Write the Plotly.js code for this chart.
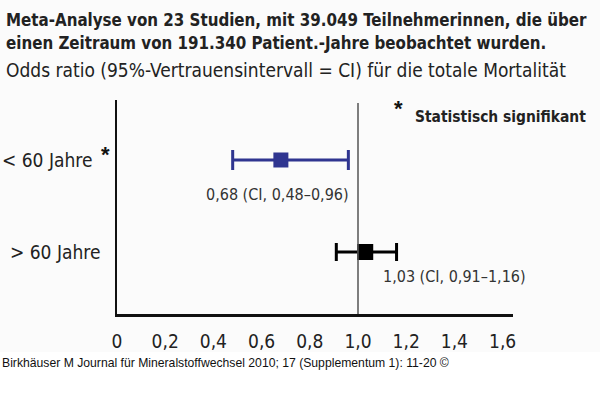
<!DOCTYPE html>
<html>
<head>
<meta charset="utf-8">
<script src="https://cdn.plot.ly/plotly-3.0.1.min.js"></script>
<style>
  html, body { margin: 0; padding: 0; background: #ffffff; }
  #chart { width: 600px; height: 414px; }
</style>
</head>
<body>
<div id="chart"></div>
<script>
// ---- Data ----
const groups = ['< 60 Jahre', '> 60 Jahre'];
const oddsRatio = [0.68, 1.03];
const ciLow = [0.48, 0.91];
const ciHigh = [0.96, 1.16];
const significant = [true, false];
const groupColors = ['#2f3590', '#000000'];
const xTickVals = [0, 0.2, 0.4, 0.6, 0.8, 1.0, 1.2, 1.4, 1.6];
const xTickText = ['0', '0,2', '0,4', '0,6', '0,8', '1,0', '1,2', '1,4', '1,6'];
const titleLines = [
  'Meta-Analyse von 23 Studien, mit 39.049 Teilnehmerinnen, die über',
  'einen Zeitraum von 191.340 Patient.-Jahre beobachtet wurden.'
];
const subtitleText = 'Odds ratio (95%-Vertrauensintervall = CI) für die totale Mortalität';
const legendText = 'Statistisch signifikant';
const sourceText = 'Birkhäuser M Journal für Mineralstoffwechsel 2010; 17 (Supplementum 1): 11-20 ©';

// ---- Layout helpers ----
const W = 600, H = 414;
const M = { l: 117, r: 87, t: 100, b: 100 };
const pw = W - M.l - M.r, ph = H - M.t - M.b;
const px2x = p => (p - M.l) / pw;
const py2y = p => 1 - (p - M.t) / ph;

const narrow = '"DejaVu Sans Condensed", "DejaVu Sans", sans-serif';
const fmt = v => v.toFixed(2).replace('.', ',');

const sizes = [15, 16];
const capW = [10, 9];

const traces = groups.map((g, i) => ({
  type: 'scatter',
  mode: 'markers',
  x: [oddsRatio[i]],
  y: [g],
  marker: { symbol: 'square', size: sizes[i], color: groupColors[i] },
  error_x: {
    type: 'data',
    symmetric: false,
    array: [ciHigh[i] - oddsRatio[i]],
    arrayminus: [oddsRatio[i] - ciLow[i]],
    color: groupColors[i],
    thickness: 3,
    width: capW[i]
  },
  hoverinfo: 'x+y',
  showlegend: false
}));

const annotations = [];
// Titles (one annotation per line)
const titleY = [20, 43];
titleLines.forEach((t, i) => {
  annotations.push({
    xref: 'paper', yref: 'paper', x: px2x(4), y: py2y(titleY[i]),
    xanchor: 'left', yanchor: 'middle', align: 'left', showarrow: false,
    text: '<b>' + t + '</b>',
    font: { family: narrow, size: 16.8, color: '#222222' }
  });
});
annotations.push({
  xref: 'paper', yref: 'paper', x: px2x(4), y: py2y(70),
  xanchor: 'left', yanchor: 'middle', showarrow: false,
  text: subtitleText,
  font: { family: narrow, size: 19, color: '#222222' }
});
// Group labels
const labelRight = [94, 102];
groups.forEach((g, i) => {
  annotations.push({
    xref: 'paper', yref: 'y', x: px2x(labelRight[i]), y: g,
    xanchor: 'right', yanchor: 'middle', showarrow: false,
    text: g, font: { family: narrow, size: 19, color: '#222222' }
  });
  if (significant[i]) {
    annotations.push({
      xref: 'paper', yref: 'y', x: px2x(99), y: g, yshift: 5,
      xanchor: 'left', yanchor: 'middle', showarrow: false,
      text: '<b>*</b>', font: { family: 'Liberation Sans, sans-serif', size: 22, color: '#111111' }
    });
  }
});
// CI labels
const ciText = groups.map((g, i) => `${fmt(oddsRatio[i])} (CI, ${fmt(ciLow[i])}–${fmt(ciHigh[i])})`);
annotations.push({
  xref: 'x', yref: 'y', x: oddsRatio[0], y: groups[0], xshift: -3, yshift: -35,
  xanchor: 'center', yanchor: 'middle', showarrow: false,
  text: ciText[0], font: { family: narrow, size: 16, color: '#333333' }
});
annotations.push({
  xref: 'x', yref: 'y', x: oddsRatio[1], y: groups[1], xshift: 16, yshift: -25,
  xanchor: 'left', yanchor: 'middle', showarrow: false,
  text: ciText[1], font: { family: narrow, size: 16, color: '#333333' }
});
// Legend
annotations.push({
  xref: 'paper', yref: 'paper', x: px2x(398), y: py2y(108),
  xanchor: 'center', yanchor: 'middle', showarrow: false,
  text: '<b>*</b>', font: { family: 'Liberation Sans, sans-serif', size: 22, color: '#111111' }
});
annotations.push({
  xref: 'paper', yref: 'paper', x: px2x(413), y: py2y(117),
  xanchor: 'left', yanchor: 'middle', showarrow: false,
  text: '<b>' + legendText + '</b>', font: { family: narrow, size: 15.4, color: '#222222' }
});
// Source
annotations.push({
  xref: 'paper', yref: 'paper', x: px2x(0), y: py2y(363),
  xanchor: 'left', yanchor: 'middle', showarrow: false,
  text: sourceText, font: { family: 'Liberation Sans, Arial, sans-serif', size: 12.2, color: '#111111' }
});

const layout = {
  width: W, height: H,
  margin: M,
  paper_bgcolor: '#ffffff',
  plot_bgcolor: 'rgba(0,0,0,0)',
  showlegend: false,
  xaxis: {
    range: [0, pw / 241],
    tickvals: xTickVals, ticktext: xTickText,
    showgrid: false, zeroline: false,
    showline: true, linecolor: '#111111', linewidth: 2.5,
    ticks: 'outside', ticklen: 9, tickcolor: 'rgba(0,0,0,0)',
    tickfont: { family: narrow, size: 19, color: '#222222' },
    fixedrange: true
  },
  yaxis: {
    type: 'category',
    categoryorder: 'array', categoryarray: groups.slice().reverse(),
    range: [-0.674, 1.652],
    showticklabels: false, showgrid: false, zeroline: false,
    showline: true, linecolor: '#111111', linewidth: 2,
    fixedrange: true
  },
  shapes: [
    { type: 'rect', xref: 'paper', yref: 'paper', layer: 'below',
      x0: px2x(0), x1: px2x(600), y0: py2y(352), y1: py2y(0),
      fillcolor: '#fbfbfb', line: { width: 0 } },
    { type: 'line', xref: 'x', yref: 'paper', x0: 1, x1: 1, y0: 0, y1: py2y(103),
      line: { color: '#555555', width: 1.5 } }
  ],
  annotations: annotations
};

Plotly.newPlot('chart', traces, layout, { displayModeBar: false, staticPlot: true });
</script>
</body>
</html>
